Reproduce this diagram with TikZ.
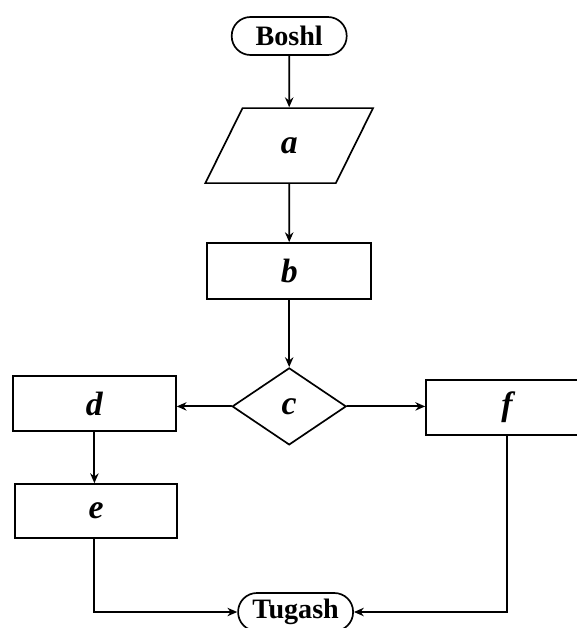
\documentclass[tikz,border=0pt]{standalone}
\usepackage{fontspec}
\setmainfont{Liberation Serif}
\usepackage{tikz}
\usetikzlibrary{arrows,arrows.meta}
\tikzset{>={Stealth[length=7pt,width=6pt]}}
\usetikzlibrary{shapes,positioning}
\tikzset{term/.style={draw,line width=1.2pt,rounded corners=0.47cm,
    minimum width=2.875cm,minimum height=0.95cm,inner sep=0pt,
    font=\fontsize{20}{22}\selectfont\bfseries},
  box/.style={draw,line width=1.2pt,minimum width=4.1cm,minimum height=1.4cm,
    inner sep=0pt,font=\fontsize{24}{26}\selectfont\bfseries\itshape},
  inbox/.style={draw,line width=1.2pt,trapezium,trapezium left angle=67.5,
    trapezium right angle=112.5,trapezium stretches=true,
    minimum width=4.2cm,minimum height=1.875cm,inner sep=0pt,
    font=\fontsize{24}{26}\selectfont\bfseries\itshape},
  test/.style={draw,line width=1.2pt,diamond,minimum width=2.85cm,
    minimum height=1.925cm,inner sep=0pt,
    font=\fontsize{24}{26}\selectfont\bfseries\itshape},
  link/.style={->,line width=1.3pt}}

\begin{document}
\begin{tikzpicture}[line cap=round]

  \useasboundingbox (0,0) rectangle (14.4,-15.7);

  \node [term] (boshl) at (7.23,-0.9) {Boshl};
  \node [inbox] (a) at (7.23,-3.64) {a};
  \node [box] (b) at (7.23,-6.775) {b};
  \node [test] (c) at (7.23,-10.16) {c};

  \node [box,minimum width=4.075cm,minimum height=1.375cm] (d) at (2.36,-10.09) {d};
  \node [box,minimum width=4.05cm,minimum height=1.35cm] (e) at (2.4,-12.775) {e};
  \node [box,minimum width=4.05cm,minimum height=1.375cm] (f) at (12.675,-10.19) {f};

  \node [term] (tugash) at (7.39,-15.3) {Tugash};



  \draw [link] (boshl) -- (a);
  \draw [link] (a) -- (b);
  \draw [link] (b) -- (c);

  \draw [link] (c.west) -- (c.west -| d.east);
  \draw [link] (c.east) -- (c.east -| f.west);
  \draw [link] (d) -- (d |- e.north);

  \draw [link] (e.south -| d) |- (tugash.west);
  \draw [link] (f.south) |- (tugash.east);

\end{tikzpicture}
\end{document}
